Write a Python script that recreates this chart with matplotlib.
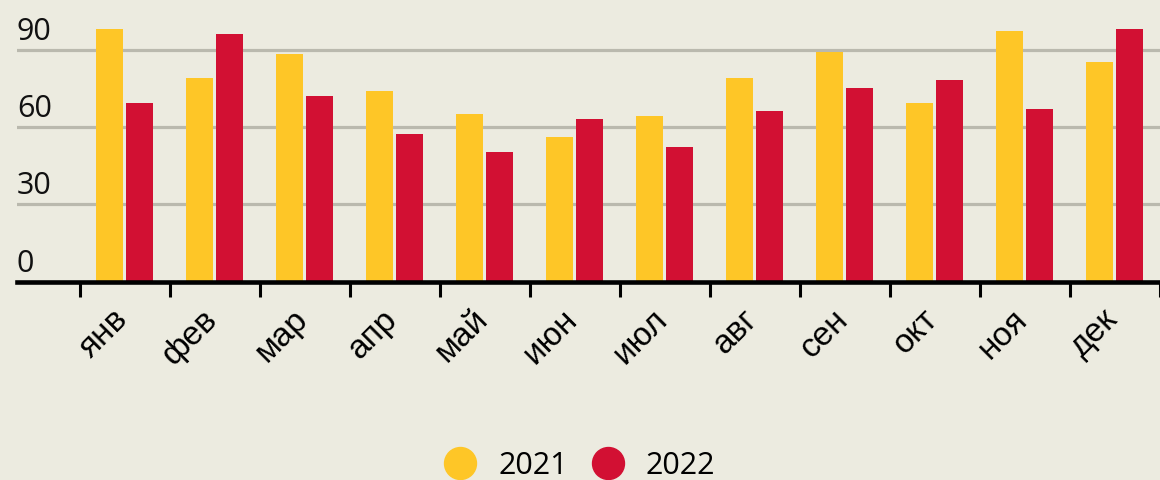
import matplotlib
matplotlib.use("Agg")
import matplotlib.pyplot as plt
import matplotlib.transforms as mtransforms
from matplotlib.lines import Line2D
import numpy as np

# data
months = ["янв", "фев", "мар", "апр", "май", "июн", "июл", "авг", "сен", "окт", "ноя", "дек"]
years = ["2021", "2022"]
values_2021 = [98.1, 79.1, 88.4, 74.0, 65.1, 56.2, 64.3, 79.1, 89.2, 69.4, 97.4, 85.3]
values_2022 = [69.4, 96.2, 72.1, 57.3, 50.3, 63.2, 52.3, 66.3, 75.2, 78.3, 67.0, 98.1]
y_ticks = [0, 30, 60, 90]

BG = "#ECEBE0"
YELLOW = "#FEC627"
RED = "#D21033"
GRID = "#BAB9AE"
NUM_FONT = "Open Sans"
LABEL_FONT = "Liberation Sans"

fig = plt.figure(figsize=(11.6, 4.8), dpi=100, facecolor=BG)
ax = fig.add_axes([17 / 1160, (480 - 281.5) / 480, 1 - 17 / 1160, 281.5 / 480])
ax.set_facecolor(BG)

x = np.arange(len(months))
width = 0.3
ax.bar(x - 0.175, values_2021, width, color=YELLOW, zorder=3)
ax.bar(x + 0.16, values_2022, width, color=RED, zorder=3)

ax.set_xlim(-1.2, 11.5)
ax.set_ylim(0, 281.5 / 2.573)

# grid lines
for v in y_ticks[1:]:
    ax.axhline(v, color=GRID, lw=2.3, zorder=1)

# y labels sit above their grid lines, inside the plot
lab_tr = mtransforms.offset_copy(ax.get_yaxis_transform(), fig=fig, x=0, y=3, units="dots")
for v in y_ticks:
    ax.text(0, v, str(v), transform=lab_tr, ha="left", va="bottom",
            fontsize=22, family=NUM_FONT, color="#111111")
ax.set_yticks([])

for s in ["top", "right", "left"]:
    ax.spines[s].set_visible(False)
ax.spines["bottom"].set_linewidth(3.3)
ax.spines["bottom"].set_zorder(4)

# tick marks at group borders, labels at group centres
ax.set_xticks(np.arange(len(months) + 1) - 0.5, minor=True)
ax.tick_params(axis="x", which="minor", length=11, width=2.2, color="black")
ax.set_xticks(x)
ax.set_xticklabels(months, rotation=45, ha="right", va="top", fontsize=24, family=LABEL_FONT)
ax.tick_params(axis="x", which="major", length=0, pad=16)
for lbl in ax.get_xticklabels():
    lbl.set_transform(lbl.get_transform() + mtransforms.ScaledTranslation(9 / 100, 0, fig.dpi_scale_trans))

handles = [Line2D([], [], marker="o", ls="", markersize=23, color=c) for c in (YELLOW, RED)]
fig.legend(handles, years, loc="center", bbox_to_anchor=(0.5, 1 - 466 / 480), ncol=2,
           frameon=False, prop={"family": NUM_FONT, "size": 22}, handlelength=1.0,
           handletextpad=0.75, columnspacing=0.8, borderpad=0)

fig.savefig("out.png", dpi=100, facecolor=BG)
